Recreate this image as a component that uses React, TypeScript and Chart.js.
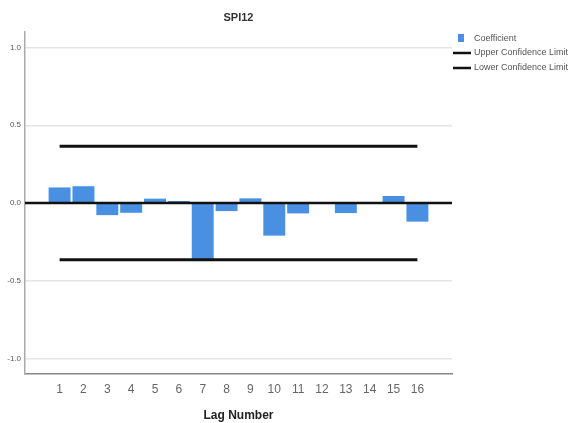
import React, { useEffect, useRef } from "react";
import { Chart, registerables } from "chart.js";

Chart.register(...registerables);

const lags = [1, 2, 3, 4, 5, 6, 7, 8, 9, 10, 11, 12, 13, 14, 15, 16];
const coefficients = [0.1, 0.108, -0.078, -0.063, 0.028, 0.013, -0.37, -0.052, 0.03, -0.21, -0.067, 0.003, -0.065, 0.004, 0.045, -0.12];
const upperLimit = 0.365;
const lowerLimit = -0.365;
const yTicks = [-1.0, -0.5, 0.0, 0.5, 1.0];
const titleText = "SPI12";
const xTitle = "Lag Number";
const legendLabels = ["Coefficient", "Upper Confidence Limit", "Lower Confidence Limit"];

const BAR_COLOR = "#4a90e2";

const overlayPlugin = {
  id: "overlay",
  afterDatasetsDraw(chart: any) {
    const { ctx, chartArea, scales } = chart;
    const y0 = scales.y.getPixelForValue(0);
    ctx.save();
    ctx.strokeStyle = "#111";
    ctx.lineWidth = 2.5;
    ctx.beginPath();
    ctx.moveTo(chartArea.left, y0);
    ctx.lineTo(chartArea.right, y0);
    ctx.stroke();
    ctx.restore();
  },
  afterDraw(chart: any) {
    const { ctx, chartArea } = chart;
    ctx.save();
    ctx.fillStyle = "#333";
    ctx.font = "bold 11px 'Liberation Sans', Arial, sans-serif";
    ctx.textAlign = "center";
    ctx.textBaseline = "middle";
    ctx.fillText(titleText, (chartArea.left + chartArea.right) / 2, 18);
    ctx.font = "bold 12px 'Liberation Sans', Arial, sans-serif";
    ctx.fillStyle = "#222";
    ctx.fillText(xTitle, (chartArea.left + chartArea.right) / 2, 416);
    ctx.textAlign = "left";
    ctx.font = "9px 'Liberation Sans', Arial, sans-serif";
    const lx = chartArea.right + 1;
    ctx.fillStyle = BAR_COLOR;
    ctx.fillRect(lx + 5, 34, 6, 8);
    ctx.fillStyle = "#555";
    ctx.fillText(legendLabels[0], lx + 21, 39);
    ctx.strokeStyle = "#111";
    ctx.lineWidth = 2.5;
    [53, 68].forEach((yy, i) => {
      ctx.beginPath();
      ctx.moveTo(lx, yy);
      ctx.lineTo(lx + 18, yy);
      ctx.stroke();
      ctx.fillText(legendLabels[i + 1], lx + 21, yy);
    });
    ctx.restore();
  },
};

export default function App() {
  const ref = useRef<HTMLCanvasElement>(null);
  useEffect(() => {
    if (!ref.current) return;
    const chart = new Chart(ref.current, {
      type: "bar",
      data: {
        datasets: [
          {
            type: "line",
            label: legendLabels[1],
            data: [
              { x: lags[0], y: upperLimit },
              { x: lags[lags.length - 1], y: upperLimit },
            ],
            borderColor: "#111",
            borderWidth: 3,
            pointRadius: 0,
            order: 0,
          } as any,
          {
            type: "line",
            label: legendLabels[2],
            data: [
              { x: lags[0], y: lowerLimit },
              { x: lags[lags.length - 1], y: lowerLimit },
            ],
            borderColor: "#111",
            borderWidth: 3,
            pointRadius: 0,
            order: 0,
          } as any,
          {
            type: "bar",
            label: legendLabels[0],
            data: lags.map((l, i) => ({ x: l, y: coefficients[i] })),
            backgroundColor: BAR_COLOR,
            barPercentage: 0.92,
            categoryPercentage: 1,
            order: 1,
          } as any,
        ],
      },
      options: {
        animation: false,
        responsive: false,
        maintainAspectRatio: false,
        layout: { padding: { top: 32, right: 124, left: 0, bottom: 0 } },
        plugins: { legend: { display: false }, title: { display: false }, tooltip: { enabled: false } },
        scales: {
          x: {
            type: "linear",
            offset: false,
            min: -0.45,
            max: 17.45,
            afterBuildTicks: (s: any) => {
              s.ticks = lags.map((v) => ({ value: v }));
            },
            afterFit: (s: any) => {
              s.height = 49;
            },
            grid: { display: false, drawTicks: false },
            border: { color: "#888", width: 1.5 },
            ticks: {
              color: "#666",
              font: { size: 12, family: "'Liberation Sans', Arial, sans-serif" },
              padding: 8,
              autoSkip: false,
              maxRotation: 0,
              callback: (v: any) => String(v),
            },
          },
          y: {
            min: -1.1,
            max: 1.1,
            afterBuildTicks: (s: any) => {
              s.ticks = yTicks.map((v) => ({ value: v }));
            },
            afterFit: (s: any) => {
              s.width = 25;
            },
            grid: {
              color: "#e4e4e4",
              lineWidth: 1.5,
              drawTicks: false,
            },
            border: { color: "#aaa", width: 1.5 },
            ticks: {
              color: "#555",
              font: { size: 8, family: "'Liberation Sans', Arial, sans-serif" },
              padding: 4,
              callback: (v: any) => Number(v).toFixed(1),
            },
          },
        },
      },
      plugins: [overlayPlugin],
    });
    return () => chart.destroy();
  }, []);
  return (
    <div style={{ position: "fixed", left: 0, top: 0, width: 576, height: 423, background: "#fff" }}>
      <canvas ref={ref} width={576} height={423} style={{ width: 576, height: 423 }} />
    </div>
  );
}
